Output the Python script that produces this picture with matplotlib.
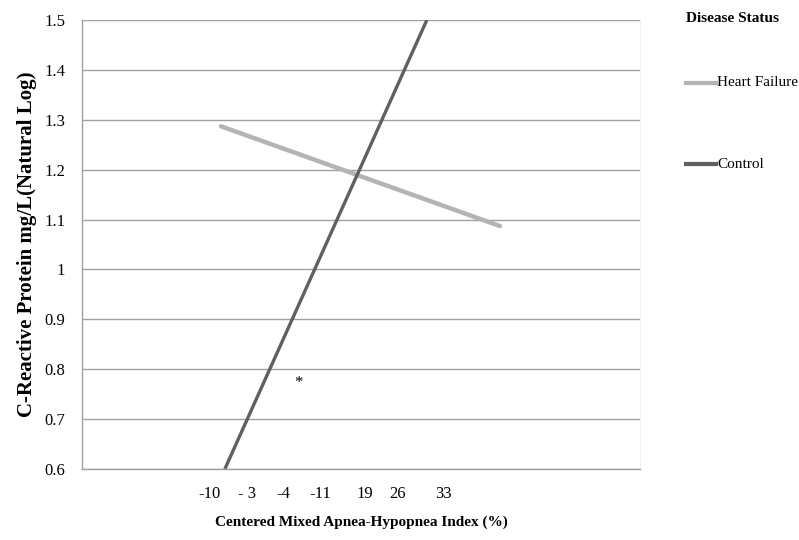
import matplotlib
matplotlib.use("Agg")
import matplotlib.pyplot as plt

plt.rcParams['font.family'] = ['Liberation Serif', 'DejaVu Serif']

# Data (x in percent of the axis width, as the axis is categorical-looking)
tick_labels = ['-10', '- 3', '-4', '-11', '19', '26', '33']
tick_pos = [22.8, 29.6, 36.0, 42.7, 50.7, 56.6, 64.7]

hf_x = [24.9, 74.9]
hf_y = [1.287, 1.087]
ctrl_x = [25.6, 61.8]
ctrl_y = [0.60, 1.50]
star_x, star_y = 38.7, 0.773

y_ticks = [0.6, 0.7, 0.8, 0.9, 1.0, 1.1, 1.2, 1.3, 1.4, 1.5]
y_labels = ['0.6', '0.7', '0.8', '0.9', '1', '1.1', '1.2', '1.3', '1.4', '1.5']

fig = plt.figure(figsize=(7.99, 5.40), dpi=100)
ax = fig.add_axes([82/799, 1-469/540, 558/799, 449/540])

ax.set_xlim(0, 100)
ax.set_ylim(0.6, 1.5)
ax.set_yticks(y_ticks)
ax.set_yticklabels(y_labels)
ax.set_xticks(tick_pos)
ax.set_xticklabels(tick_labels)
ax.tick_params(axis='both', length=0, labelsize=12)
ax.tick_params(axis='y', pad=12)
ax.tick_params(axis='x', pad=12)
ax.yaxis.grid(True, color='#a0a0a0', linewidth=1.0)
ax.set_axisbelow(True)
for s in ['left', 'bottom']:
    ax.spines[s].set_color('#a0a0a0')
    ax.spines[s].set_linewidth(1.0)
ax.spines['top'].set_visible(False)
ax.spines['right'].set_color('#f0f0f0')

l1, = ax.plot(hf_x, hf_y, color='#b4b4b4', linewidth=3.2, solid_capstyle='round', label='Heart Failure')
l2, = ax.plot(ctrl_x, ctrl_y, color='#606060', linewidth=2.4, solid_capstyle='butt', label='Control', clip_on=True)
ax.text(star_x, star_y, '*', ha='center', va='center', fontsize=12)

ax.set_ylabel('C-Reactive Protein mg/L(Natural Log)', fontsize=15, fontweight='bold', labelpad=5)
ax.set_xlabel('Centered Mixed Apnea-Hypopnea Index (%)', fontsize=11, fontweight='bold', labelpad=10)

# Legend drawn manually in figure coordinates
fig.text(686/799, 1-18/540, 'Disease Status', fontsize=11, fontweight='bold', va='center', ha='left')
fig.add_artist(plt.Line2D([686/799, 716/799], [1-83/540, 1-83/540], color='#b4b4b4', linewidth=3.0))
fig.text(717/799, 1-83/540, 'Heart Failure', fontsize=11, va='center', ha='left')
fig.add_artist(plt.Line2D([686/799, 716/799], [1-164/540, 1-164/540], color='#606060', linewidth=3.0))
fig.text(717/799, 1-164/540, 'Control', fontsize=11, va='center', ha='left')

fig.savefig('out.png', dpi=100)
